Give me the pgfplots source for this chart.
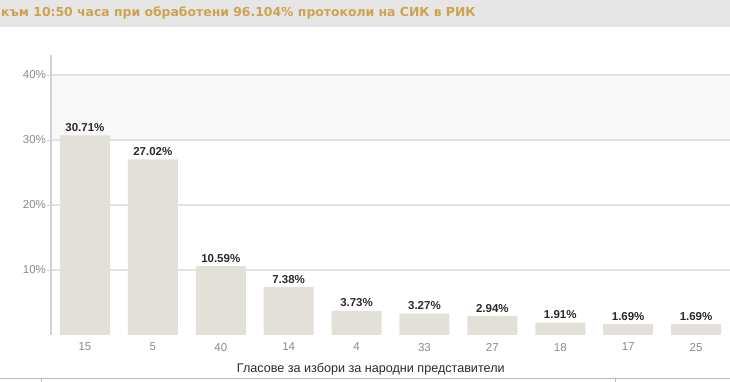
\documentclass[border=0pt]{standalone}
\usepackage{pgfplots}
\pgfplotsset{compat=1.18}
\usepackage{fontspec}
\setmainfont{Liberation Sans}
\newfontfamily\titlefont{DejaVu Sans}
\definecolor{barc}{HTML}{E3E0D9}
\definecolor{bandc}{HTML}{F8F8F8}
\definecolor{gridc}{HTML}{E2E2E2}
\definecolor{linec}{HTML}{D0D0D8}
\definecolor{tickc}{HTML}{8A8A8A}
\definecolor{labc}{HTML}{2A2A2A}
\definecolor{titlebg}{HTML}{E6E6E6}
\definecolor{titlec}{HTML}{CFA24E}
\definecolor{botc}{HTML}{B8B8B8}
\begin{document}
\begin{tikzpicture}
\useasboundingbox (0,0) rectangle (730pt,382pt);
\fill[titlebg] (0,355pt) rectangle (730pt,382pt);
\node[anchor=west, inner sep=0, text=titlec, font=\titlefont\bfseries\fontsize{12.4}{15}\selectfont] at (1pt,369pt) {към 10:50 часа при обработени 96.104\% протоколи на СИК в РИК};
\draw[botc] (0,3.5pt) -- (730pt,3.5pt);
\draw[botc] (41pt,0) -- (41pt,3.5pt);
\draw[botc] (615pt,0) -- (615pt,3.5pt);
\begin{axis}[
  at={(51pt,47pt)}, anchor=south west,
  scale only axis, width=679pt, height=280pt,
  xmin=-0.5, xmax=9.5, ymin=0, ymax=43.08,
  axis line style={draw=none},
  xtick=data,
  xticklabels={15,5,40,14,4,33,27,18,17,25},
  xtick style={draw=none},
  ytick={10,20,30,40},
  yticklabel={\pgfmathprintnumber{\tick}\%},
  /pgf/number format/assume math mode=true,
  ytick style={draw=linec, line width=1pt},
  major tick length=4pt,
  tick align=outside,
  ymajorgrids,
  major grid style={draw=gridc, line width=1.2pt},
  tick label style={text=tickc, font=\fontsize{11.5}{13}\selectfont},
  xticklabel style={yshift=-0.5pt},
  yticklabel style={xshift=2.5pt},
  xlabel={Гласове за избори за народни представители},
  xlabel style={at={(axis description cs:0.471,0)}, anchor=center, yshift=-34pt, text=labc, font=\fontsize{12.6}{14}\selectfont},
  clip=false,
]
\fill[bandc] (axis cs:-0.5,30.12) rectangle (axis cs:9.5,39.88);
\addplot[ybar, bar width=50pt, fill=barc, draw=none,
  nodes near coords={\pgfmathprintnumber[fixed,precision=2,fixed zerofill]{\pgfplotspointmeta}\%},
  nodes near coords style={font=\bfseries\fontsize{11.5}{13}\selectfont, text=labc, inner sep=3.5pt}]
  coordinates {(0,30.71) (1,27.02) (2,10.59) (3,7.38) (4,3.73) (5,3.27) (6,2.94) (7,1.91) (8,1.69) (9,1.69)};
\draw[linec, line width=1.5pt] (axis cs:-0.5,0) -- (axis cs:-0.5,43.08);
\end{axis}
\end{tikzpicture}
\end{document}
